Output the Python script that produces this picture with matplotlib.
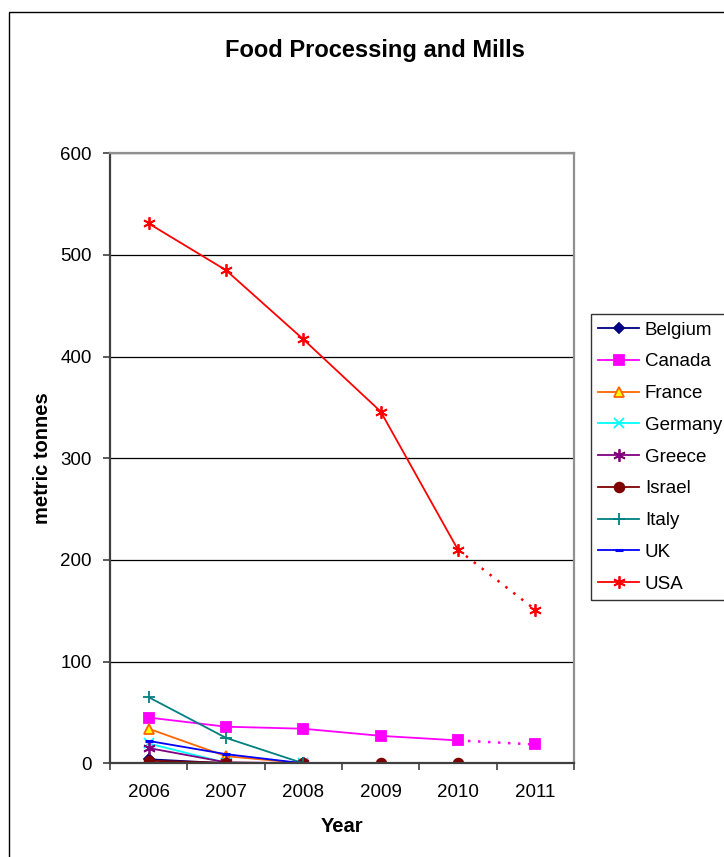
import numpy as np
import matplotlib
matplotlib.use("Agg")
import matplotlib.pyplot as plt
from matplotlib.patches import Rectangle
from matplotlib.lines import Line2D

plt.rcParams['font.family'] = ['Liberation Sans', 'DejaVu Sans']

# données (tonnes métriques)
years = ['2006', '2007', '2008', '2009', '2010', '2011']
nan = np.nan
belgium = [4, 0, 0, nan, nan, nan]
canada = [45, 36, 34, 27, 22.5, 18.5]
france = [34, 7, 0, nan, nan, nan]
germany = [19.5, 0.5, 0, nan, nan, nan]
greece = [15, 1, 0, nan, nan, nan]
israel = [2.5, 0.5, 0, 0, 0, nan]
italy = [65, 25, 0, nan, nan, nan]
uk = [22, 9, 0, nan, nan, nan]
usa = [531, 485, 417, 346, 210, 151]

# (nom, valeurs, couleur, marqueur, taille, face)
series = [
    ('Belgium', belgium, '#000080', 'D', 5, '#000080'),
    ('Canada', canada, '#FF00FF', 's', 6.5, '#FF00FF'),
    ('France', france, '#FF6600', '^', 7.5, '#FFFF00'),
    ('Germany', germany, '#00FFFF', 'x', 7, '#00FFFF'),
    ('Greece', greece, '#800080', (6, 2, 0), 9, '#800080'),
    ('Israel', israel, '#800000', 'o', 7, '#800000'),
    ('Italy', italy, '#008080', '+', 9, '#008080'),
    ('UK', uk, '#0000FF', '_', 6, '#0000FF'),
    ('USA', usa, '#FF0000', (6, 2, 0), 9, '#FF0000'),
]
# la dernière année est une projection (trait pointillé)
projected = {'Canada', 'USA'}

W, H = 724, 857
fig = plt.figure(figsize=(W / 100, H / 100), dpi=100)
ax = fig.add_axes([110 / W, 1 - 763.3 / H, 464 / W, 610 / H])

x = np.arange(len(years))
handles = []
for name, vals, col, mk, ms, fc in series:
    v = np.array(vals, dtype=float)
    mew = 2.2 if mk == '_' else 1.3
    if name in projected:
        ax.plot(x[:-1], v[:-1], color=col, lw=1.3, marker=mk, ms=ms,
                mfc=fc, mec=col, mew=mew)
        ax.plot(x[-2:], v[-2:], color=col, lw=1.8, ls=(0, (1, 3)))
        ax.plot(x[-1:], v[-1:], ls='none', marker=mk, ms=ms,
                mfc=fc, mec=col, mew=mew)
    else:
        ax.plot(x, v, color=col, lw=1.3, marker=mk, ms=ms,
                mfc=fc, mec=col, mew=mew)
    handles.append(Line2D([], [], color=col, lw=1.3, marker=mk, ms=ms,
                          mfc=fc, mec=col, mew=mew, label=name))

ax.set_xlim(-0.5, len(years) - 0.5)
ax.set_ylim(0, 600)
ax.set_yticks(np.arange(0, 601, 100))
ax.set_xticks(x)
ax.set_xticklabels(years)
ax.set_xticks(np.arange(-0.5, len(years)), minor=True)
ax.tick_params(axis='x', which='major', length=0, pad=15, labelsize=13.5)
ax.tick_params(axis='x', which='minor', length=5, width=1.2, color='#404040',
               direction='out')
ax.tick_params(axis='y', length=5, width=1.2, color='#404040', pad=8,
               labelsize=13.5)
ax.grid(axis='y', color='#000000', lw=0.9)
ax.set_axisbelow(True)
for s in ['top', 'right']:
    ax.spines[s].set_color('#909090')
    ax.spines[s].set_linewidth(1.6)
for s in ['left', 'bottom']:
    ax.spines[s].set_color('#404040')
    ax.spines[s].set_linewidth(1.6)

fig.text(375 / W, 1 - 50 / H, 'Food Processing and Mills', ha='center',
         va='center', fontsize=17, fontweight='bold')
fig.text(42 / W, 1 - 458.5 / H, 'metric tonnes', ha='center', va='center',
         rotation=90, fontsize=14.5, fontweight='bold')
fig.text(342 / W, 1 - 827 / H, 'Year', ha='center', va='center',
         fontsize=14.5, fontweight='bold')

leg = fig.legend(handles=handles, loc='upper left',
                 bbox_to_anchor=(590.5 / W, 1 - 314 / H), fontsize=13.5,
                 frameon=True, fancybox=False, edgecolor='black',
                 handlelength=2.2, handletextpad=0.3, labelspacing=0.78,
                 borderpad=0.4, borderaxespad=0)
leg.get_frame().set_linewidth(1.0)

# cadre extérieur du graphique
fig.patches.append(Rectangle((9 / W, -0.1), 1.2, 1.1 - 12 / H,
                             transform=fig.transFigure, fill=False,
                             edgecolor='black', lw=1.0))

fig.savefig('out.png', dpi=100)
